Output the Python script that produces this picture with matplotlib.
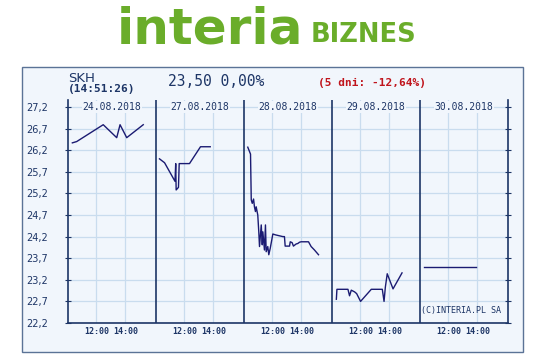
import matplotlib
matplotlib.use("Agg")
import matplotlib.pyplot as plt
from matplotlib.patches import Rectangle

# Chart values (hours of day, price in PLN)
DAYS = ["24.08.2018", "27.08.2018", "28.08.2018", "29.08.2018", "30.08.2018"]

day1_hours = [10.35, 10.65, 12.48, 13.41, 13.64, 14.10, 15.24]
day1_prices = [26.37, 26.40, 26.79, 26.49, 26.79, 26.49, 26.79]

day2_hours = [10.29, 10.64, 11.36, 11.41, 11.44, 11.60, 11.65, 12.36, 13.12, 13.79]
day2_prices = [26.00, 25.91, 25.48, 25.89, 25.28, 25.34, 25.89, 25.89, 26.28, 26.28]

day3_hours = [10.31, 10.50, 10.55, 10.62, 10.71, 10.77, 10.84, 10.89, 11.00, 11.07,
              11.12, 11.24, 11.31, 11.35, 11.46, 11.53, 11.58, 11.69, 11.76, 11.86,
              12.04, 12.22, 12.73, 12.84, 12.89, 13.19, 13.24, 13.37, 13.46, 13.65,
              13.76, 13.88, 13.99, 14.50, 14.68, 14.91, 15.19]
day3_prices = [26.27, 26.11, 25.05, 24.97, 25.07, 24.89, 24.78, 24.89, 24.70, 24.31,
               23.97, 24.47, 24.01, 24.31, 23.89, 24.47, 23.85, 23.97, 23.78, 23.93,
               24.26, 24.24, 24.20, 24.20, 23.98, 23.98, 24.08, 24.06, 23.98, 24.03,
               24.04, 24.07, 24.08, 24.08, 23.97, 23.89, 23.78]

day4_hours = [10.35, 10.39, 11.15, 11.26, 11.38, 11.61, 11.75, 12.02, 12.76, 13.52,
              13.64, 13.73, 13.86, 14.26, 14.88]
day4_prices = [22.75, 22.98, 22.98, 22.83, 22.96, 22.92, 22.88, 22.70, 22.98, 22.98,
               22.70, 23.03, 23.34, 22.99, 23.36]

day5_hours = [10.30, 13.91]
day5_prices = [23.50, 23.50]

Y_TICKS = [22.2, 22.7, 23.2, 23.7, 24.2, 24.7, 25.2, 25.7, 26.2, 26.7, 27.2]
HOUR_TICKS = [12, 14]

DAY_START = 10.05
DAY_LEN = 6.07

BG = "#f1f6fc"
GRID = "#c9dcee"
NAVY = "#1d3566"
LINE = "#1b1b72"
GREEN = "#6aad2a"

W, H = 547, 359


def fx(px):
    return px / W


def fy(py):
    return 1 - py / H


fig = plt.figure(figsize=(W / 100, H / 100), dpi=100)
fig.patch.set_facecolor("white")

# outer panel
panel = Rectangle((fx(22), fy(352)), (523 - 22) / W, (352 - 67) / H,
                  transform=fig.transFigure, facecolor=BG,
                  edgecolor="#5b7396", lw=1.0, zorder=-10)
fig.add_artist(panel)

# logo
fig.text(fx(117), fy(43), "interia", color=GREEN, fontsize=36, fontweight="bold",
         family="DejaVu Sans", ha="left", va="baseline")
fig.text(fx(311), fy(42), "BIZNES", color=GREEN, fontsize=18.5, fontweight="bold",
         family="DejaVu Sans", ha="left", va="baseline")

# header
fig.text(fx(68), fy(78), "SKH", color=NAVY, fontsize=9.5, family="DejaVu Sans",
         ha="left", va="center")
fig.text(fx(68), fy(89), "(14:51:26)", color=NAVY, fontsize=8, fontweight="bold",
         family="DejaVu Sans Mono", ha="left", va="center")
fig.text(fx(168), fy(82), "23,50 0,00%", color=NAVY, fontsize=10.5,
         family="DejaVu Sans Mono", ha="left", va="center")
fig.text(fx(318), fy(83), "(5 dni: -12,64%)", color="#c0141c", fontsize=8,
         fontweight="bold", family="DejaVu Sans Mono", ha="left", va="center")

ax = fig.add_axes([fx(68), fy(323), (508 - 68) / W, (323 - 100) / H])
ax.set_facecolor(BG)

all_hours = [day1_hours, day2_hours, day3_hours, day4_hours, day5_hours]
all_prices = [day1_prices, day2_prices, day3_prices, day4_prices, day5_prices]

for i, (hrs, prc) in enumerate(zip(all_hours, all_prices)):
    xs = [i * DAY_LEN + (h - DAY_START) for h in hrs]
    ax.plot(xs, prc, color=LINE, lw=1.0, zorder=5)

xt = []
xl = []
for i in range(len(DAYS)):
    for h in HOUR_TICKS:
        xt.append(i * DAY_LEN + (h - DAY_START))
        xl.append(f"{h}:00")
ax.set_xticks(xt)
ax.set_xticklabels(xl, family="DejaVu Sans Mono", fontsize=6, fontweight="bold",
                   color=NAVY)
ax.tick_params(axis="x", length=0, pad=3)

ax.set_yticks(Y_TICKS)
ax.set_yticklabels([f"{v:.1f}".replace(".", ",") for v in Y_TICKS],
                   family="DejaVu Sans", fontsize=7, color=NAVY)
ax.tick_params(axis="y", direction="inout", length=5, width=0.8, color=NAVY,
               right=True, pad=12)

ax.grid(True, color=GRID, lw=0.9)
ax.set_axisbelow(True)

ax.set_xlim(0, len(DAYS) * DAY_LEN)
ax.set_ylim(22.2, 22.2 + 223 / 43.2)

for i in range(1, len(DAYS)):
    ax.axvline(i * DAY_LEN, color=NAVY, lw=1.2, zorder=4)

for i, d in enumerate(DAYS):
    ax.text(i * DAY_LEN + DAY_LEN / 2, 27.2, d, ha="center", va="center",
            family="DejaVu Sans Mono", fontsize=7, color=NAVY, zorder=6,
            bbox=dict(facecolor=BG, edgecolor="none", pad=0.5))

ax.text(0.985, 0.035, "(C)INTERIA.PL SA", transform=ax.transAxes, ha="right",
        va="bottom", family="DejaVu Sans Mono", fontsize=6, color=NAVY, zorder=6)

ax.spines["top"].set_visible(False)
for s in ["left", "right", "bottom"]:
    ax.spines[s].set_color(NAVY)
    ax.spines[s].set_linewidth(1.2)

fig.savefig("out.png", dpi=100, facecolor="white")
